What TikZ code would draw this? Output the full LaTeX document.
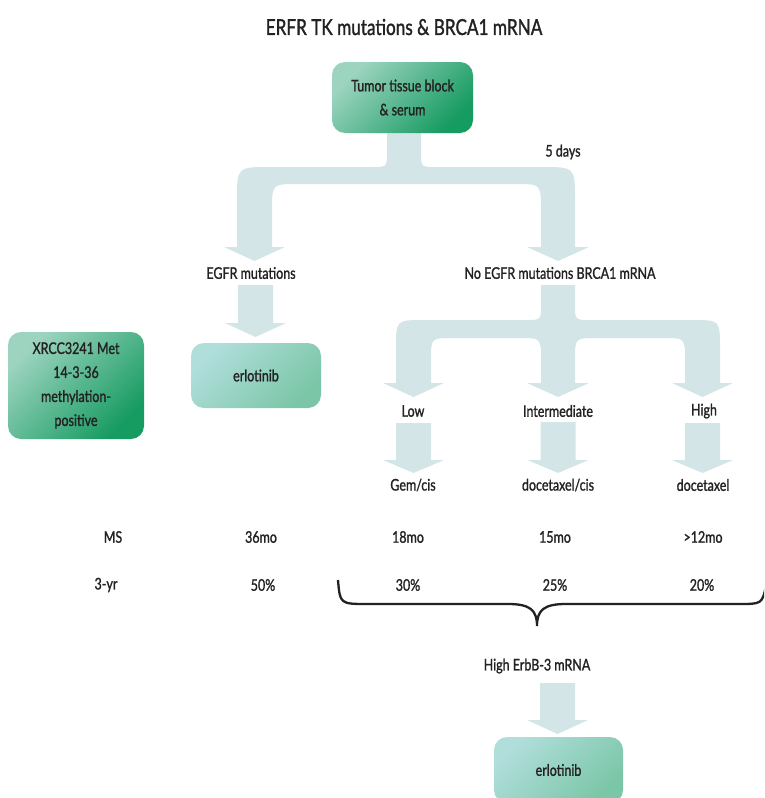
\documentclass[tikz,border=0pt]{standalone}
\usepackage{fontspec}
\setmainfont[FakeStretch=0.78,FakeBold=1.3]{Lato}
\definecolor{arr}{HTML}{D3E5E7}
\definecolor{gl}{HTML}{9DD4C0}
\definecolor{gd}{HTML}{169B61}
\definecolor{tl}{HTML}{B0DEDB}
\definecolor{td}{HTML}{7BC6A7}
\definecolor{txt}{HTML}{222222}
\newcommand\dnarr[4]{\fill[arr] (#1-17.5,#2) -- (#1+17.5,#2) -- (#1+17.5,#3) -- (#1+30.5,#3) -- (#1,#4) -- (#1-30.5,#3) -- (#1-17.5,#3) -- cycle;}
\begin{document}
\begin{tikzpicture}[x=1pt,y=-1pt,
  lbl/.style={inner sep=0pt, text=txt, font=\fontsize{16}{22}\selectfont},
  darkbox/.style={rounded corners=13pt, left color=gl, right color=gd, shading angle=45, text=txt, align=center, font=\fontsize{16}{24}\selectfont, inner sep=0pt},
  lightbox/.style={rounded corners=13pt, left color=tl, right color=td, shading angle=45, text=txt, align=center, font=\fontsize{16}{24}\selectfont, inner sep=0pt}]
\useasboundingbox (0,0) rectangle (764,798);
\clip (0,0) rectangle (764,798);
% top fork
\fill[arr] (224,247) -- (237,247) -- (237,200) .. controls (237,167) .. (270,167) -- (372,167) .. controls (387,167) .. (387,152) -- (387,130) -- (421,130) -- (421,152) .. controls (421,167) .. (436,167) -- (542,167) .. controls (575,167) .. (575,200) -- (575,247) -- (589,247) -- (558,261) -- (527,247) -- (541,247) -- (541,210) .. controls (541,184) .. (515,184) -- (298,184) .. controls (272,184) .. (272,210) -- (272,247) -- (285,247) -- (254.5,261) -- cycle;
% second fork
\fill[arr] (383,383) -- (396,383) -- (396,348) .. controls (396,320) .. (424,320) -- (526,320) .. controls (541,320) .. (541,305) -- (541,285) -- (575,285) -- (575,305) .. controls (575,320) .. (590,320) -- (692,320) .. controls (720,320) .. (720,348) -- (720,383) -- (733,383) -- (702.5,397) -- (672,383) -- (685,383) -- (685,360) .. controls (685,338) .. (663,338) -- (597,338) .. controls (575,338) .. (575,360) -- (575,383) -- (589,383) -- (558,397) -- (527,383) -- (541,383) -- (541,360) .. controls (541,338) .. (519,338) -- (453,338) .. controls (431,338) .. (431,360) -- (431,383) -- (444,383) -- (413.5,397) -- cycle;
\dnarr{255.5}{285}{323}{337}
\dnarr{413.5}{423}{460}{473}
\dnarr{558}{422}{460}{473}
\dnarr{702.5}{423}{460}{473}
\dnarr{557.5}{683}{720}{734}
% boxes
\node[darkbox, minimum width=141pt, minimum height=71pt] (top) at (402.5,97.5) {Tumor tissue block\\\& serum};
\node[darkbox, minimum width=136pt, minimum height=107pt] (xrcc) at (76,385.5) {XRCC3241 Met\\14-3-36\\methylation-\\positive};
\node[lightbox, minimum width=130pt, minimum height=65pt] (erl1) at (256,375.5) {erlotinib};
\node[lightbox, minimum width=129pt, minimum height=66pt] (erl2) at (558.5,770) {erlotinib};
% labels
\node[lbl, font=\fontsize{22}{26}\selectfont] (title) at (404,27) {ERFR TK mutations \& BRCA1 mRNA};
\node[lbl] (days) at (563,152) {5 days};
\node[lbl] (egfr) at (251,273) {EGFR mutations};
\node[lbl] (noegfr) at (560,273) {No EGFR mutations BRCA1 mRNA};
\node[lbl] (low) at (413,411) {Low};
\node[lbl] (int) at (558,411) {Intermediate};
\node[lbl] (high) at (704,411) {High};
\node[lbl] (gem) at (413,485) {Gem/cis};
\node[lbl] (doccis) at (558,485) {docetaxel/cis};
\node[lbl] (doc) at (703,485) {docetaxel};
\node[lbl] (ms) at (113,537) {MS};
\node[lbl] (ms1) at (261,537) {36mo};
\node[lbl] (ms2) at (408,537) {18mo};
\node[lbl] (ms3) at (555,537) {15mo};
\node[lbl] (ms4) at (703,537) {>12mo};
\node[lbl] (yr) at (106,585) {3-yr};
\node[lbl] (yr1) at (263,585) {50\%};
\node[lbl] (yr2) at (408,585) {30\%};
\node[lbl] (yr3) at (555,585) {25\%};
\node[lbl] (yr4) at (702,585) {20\%};
\node[lbl] (erbb) at (537,666) {High ErbB-3 mRNA};
% brace
\draw[line width=2.3pt, txt] (338,580) .. controls (340,604) .. (368,604) -- (508,604) .. controls (530,604) and (537,610) .. (537,626) .. controls (537,610) and (544,604) .. (566,604) -- (738,604) .. controls (762,604) .. (766,586);
\end{tikzpicture}
\end{document}
